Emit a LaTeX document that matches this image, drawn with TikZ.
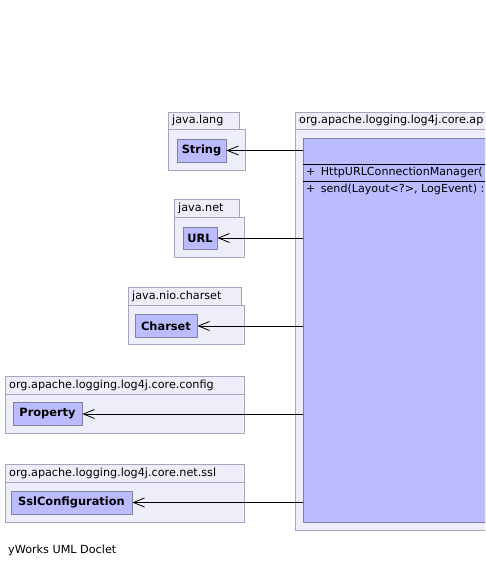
\documentclass[tikz,border=0pt]{standalone}
\usepackage{fontspec}
\setmainfont{DejaVu Sans}
\usetikzlibrary{arrows.meta}
\definecolor{pkgfill}{RGB}{238,238,251}
\definecolor{pkgline}{RGB}{165,165,190}
\definecolor{clsfill}{RGB}{187,187,255}
\definecolor{clsline}{RGB}{128,128,160}
\tikzset{
  x=1pt, y=-1pt,
  pkg/.style={draw=pkgline, fill=pkgfill, line width=0.9pt},
  pkglabel/.style={anchor=west, inner sep=0pt, font=\fontsize{11.2}{13}\selectfont},
  cls/.style={draw=clsline, fill=clsfill, line width=0.9pt, inner sep=0pt,
    font=\fontsize{11.4}{13}\selectfont\bfseries, minimum height=23pt},
  member/.style={anchor=west, inner sep=0pt, font=\fontsize{11.1}{13}\selectfont},
  dep/.style={-{Straight Barb[length=11pt,width=9pt]}, line width=0.8pt},
}
\begin{document}
\begin{tikzpicture}
\useasboundingbox[fill=white] (0,0) rectangle (485,568);
\clip (0,0) rectangle (485,568);

% package org.apache.logging.log4j.core.ap...
\draw[pkg] (295,112) rectangle (560,129);
\draw[pkg] (295,129) rectangle (560,530);
\node[pkglabel] (pmain) at (299,120.5) {org.apache.logging.log4j.core.ap};

% the class inside it
\node[draw=clsline, fill=clsfill, line width=0.9pt, anchor=north west,
      minimum width=250pt, minimum height=384pt, inner sep=0pt] (main) at (303,138) {};
\draw[line width=0.8pt] (303,164) -- (560,164);
\draw[line width=0.8pt] (303,181) -- (560,181);
\node[member] (ctor) at (306,172.5) {+\, HttpURLConnectionManager(};
\node[member] (send) at (306,189.5) {+\, send(Layout<?>, LogEvent) :};

% java.lang
\draw[pkg] (168,112) rectangle (239,129);
\draw[pkg] (168,129) rectangle (245,170);
\node[pkglabel] (plang) at (172,120.5) {java.lang};
\node[cls, minimum width=49pt] (String) at (201.5,150.5) {String};

% java.net
\draw[pkg] (174,199.5) rectangle (239,217);
\draw[pkg] (174,217) rectangle (244,257);
\node[pkglabel] (pnet) at (178,208) {java.net};
\node[cls, minimum width=34pt, minimum height=22pt] (URL) at (200,238) {URL};

% java.nio.charset
\draw[pkg] (128,287.5) rectangle (241,305);
\draw[pkg] (128,305) rectangle (244,344);
\node[pkglabel] (pnio) at (132,296) {java.nio.charset};
\node[cls, minimum width=62pt] (Charset) at (166,326) {Charset};

% org.apache.logging.log4j.core.config
\draw[pkg] (5,376) rectangle (244,394);
\draw[pkg] (5,394) rectangle (244,433);
\node[pkglabel] (pconfig) at (9,385) {org.apache.logging.log4j.core.config};
\node[cls, minimum width=69pt] (Property) at (47.5,414) {Property};

% org.apache.logging.log4j.core.net.ssl
\draw[pkg] (5,464) rectangle (244,482);
\draw[pkg] (5,482) rectangle (244,522);
\node[pkglabel] (pssl) at (9,473) {org.apache.logging.log4j.core.net.ssl};
\node[cls, minimum width=121pt] (Ssl) at (71.5,502.5) {SslConfiguration};

% dependencies
\foreach \t in {String,URL,Charset,Property,Ssl}
  \draw[dep] (main.west |- \t.east) -- (\t.east);

\node[pkglabel] (footer) at (8,550) {yWorks UML Doclet};
\end{tikzpicture}
\end{document}
